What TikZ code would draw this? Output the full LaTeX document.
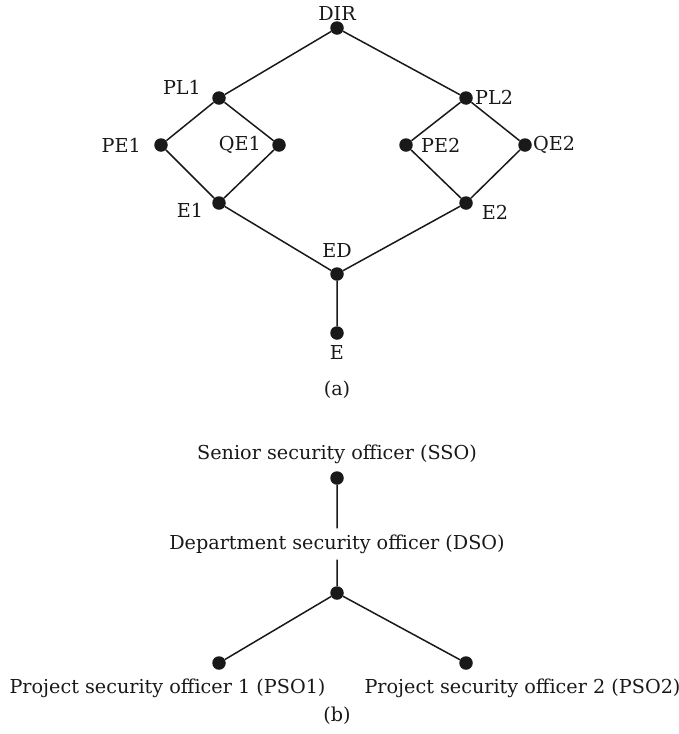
\documentclass[tikz,border=0pt]{standalone}
\usepackage{fontspec}
\setmainfont{DejaVu Serif}
\begin{document}
\begin{tikzpicture}[x=1pt,y=-1pt,
  dot/.style={circle,fill=black!90,inner sep=0pt,minimum size=13.5pt},
  lbl/.style={inner sep=0pt,text=black!90,font=\fontsize{19.2}{23}\selectfont},
  edge/.style={line width=1.5pt,black!90}]
\useasboundingbox (0,0) rectangle (679,734);
% (a) lattice
\node[dot] (DIR) at (337,28) {};
\node[dot] (PL1) at (219,98) {};
\node[dot] (PL2) at (466,98) {};
\node[dot] (PE1) at (161,145) {};
\node[dot] (QE1) at (279,145) {};
\node[dot] (PE2) at (406,145) {};
\node[dot] (QE2) at (525,145) {};
\node[dot] (E1) at (219,203) {};
\node[dot] (E2) at (466,203) {};
\node[dot] (ED) at (337,274) {};
\node[dot] (E) at (337,333) {};
\draw[edge] (DIR) -- (PL1) (DIR) -- (PL2)
  (PL1) -- (PE1) (PL1) -- (QE1) (PE1) -- (E1) (QE1) -- (E1)
  (PL2) -- (PE2) (PL2) -- (QE2) (PE2) -- (E2) (QE2) -- (E2)
  (E1) -- (ED) (E2) -- (ED) (ED) -- (E);
\node[lbl] (tDIR) at (337,13) {DIR};
\node[lbl] (tPL1) at (182,87) {PL1};
\node[lbl,anchor=west] (tPL2) at (475,97) {PL2};
\node[lbl,anchor=east] (tPE1) at (141,145) {PE1};
\node[lbl,anchor=east] (tQE1) at (261,145) {QE1};
\node[lbl,anchor=west] (tPE2) at (421,145) {PE2};
\node[lbl,anchor=west] (tQE2) at (533,145) {QE2};
\node[lbl] (tE1) at (190,210) {E1};
\node[lbl] (tE2) at (495,212) {E2};
\node[lbl] (tED) at (337,250) {ED};
\node[lbl] (tE) at (337,352) {E};
\node[lbl] (capa) at (337,390) {(a)};
% (b) hierarchy
\node[lbl] (SSOt) at (337,454) {Senior security officer (SSO)};
\node[dot] (SSO) at (337,478) {};
\node[lbl,inner sep=6pt] (DSO) at (337,544) {Department security officer (DSO)};
\node[dot] (J) at (337,593) {};
\node[dot] (P1) at (219,663) {};
\node[dot] (P2) at (466,663) {};
\draw[edge] (SSO) -- (DSO) (DSO) -- (J) (J) -- (P1) (J) -- (P2);
\node[lbl] (P1t) at (167.5,688) {Project security officer 1 (PSO1)};
\node[lbl] (P2t) at (522.5,688) {Project security officer 2 (PSO2)};
\node[lbl] (capb) at (337,716) {(b)};
\end{tikzpicture}
\end{document}
